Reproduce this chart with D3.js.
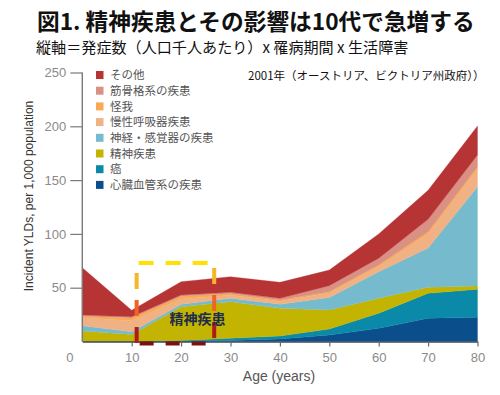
<!DOCTYPE html>
<html><head><meta charset="utf-8">
<script src="https://cdn.jsdelivr.net/npm/d3@7/dist/d3.min.js"></script>
<style>
html,body{margin:0;padding:0;background:#fff;}
svg{display:block;}
</style></head>
<body>
<svg id="c" width="500" height="395"></svg>
<script>
// ---- data ----
const ages = [0, 10, 20, 30, 40, 50, 60, 70, 80];
const cardio  = [0, 0, 0.5, 1, 2.3, 6, 12.3, 21.6, 22.5];
const cancer  = [0, 0.3, 0.5, 2, 2.8, 5.6, 13.9, 23.2, 26];
const mental  = [9.7, 6.2, 31.4, 34, 25.7, 17.7, 13.9, 5.6, 3.1];
const neuro   = [5, 2.5, 2.2, 3.1, 3.8, 11.7, 24.8, 36.6, 92.3];
const resp    = [7.3, 10.3, 4.9, 2.9, 2.7, 4, 4.7, 13, 16.1];
const injury  = [1.5, 2.5, 2.5, 1.5, 1.2, 1.3, 1.5, 2, 2.5];
const musculo = [1.1, 1.2, 1.2, 1.2, 1.6, 5.6, 6.2, 11.5, 10.8];
const other   = [44, 6, 12.4, 14.5, 14.9, 14.5, 22.7, 27, 27];

const seriesKeys  = ["cardio","cancer","mental","neuro","resp","injury","musculo","other"];
const seriesNames = ["心臓血管系の疾患","癌","精神疾患","神経・感覚器の疾患","慢性呼吸器疾患","怪我","筋骨格系の疾患","その他"];
const seriesColors = ["#0a4f8c","#0a8aa8","#c2b400","#76bbcd","#f0b185","#f9aa52","#db9084","#b73435"];
const seriesValues = {cardio, cancer, mental, neuro, resp, injury, musculo, other};

const yTicks = [50, 100, 150, 200, 250];
const xTicks = [0, 10, 20, 30, 40, 50, 60, 70, 80];

const titleText = "図1. 精神疾患とその影響は10代で急増する";
const subtitleText = "縦軸＝発症数（人口千人あたり）x 罹病期間 x 生活障害";
const noteText = "2001年（オーストリア、ビクトリア州政府））";
const xTitle = "Age (years)";
const yTitle = "Incident YLDs, per 1,000 population";
const boxLabel = "精神疾患";

// ---- build ----
const rows = ages.map((a, i) => {
  const r = {age: a};
  seriesKeys.forEach(k => r[k] = seriesValues[k][i]);
  return r;
});

const svg = d3.select("#c");
const x = d3.scaleLinear().domain([0, 80]).range([82.3, 477.5]);
const y = d3.scaleLinear().domain([0, 250]).range([341.5, 72.5]);

const stack = d3.stack().keys(seriesKeys);
const layers = stack(rows);
const area = d3.area()
  .x(d => x(d.data.age))
  .y0(d => y(d[0]))
  .y1(d => y(d[1]));

svg.append("g").selectAll("path").data(layers).join("path")
  .attr("d", area)
  .attr("fill", (d, i) => seriesColors[i])
  .attr("stroke", (d, i) => seriesColors[i])
  .attr("stroke-width", 0.3);

// axes
const fontLat = "'Liberation Sans', Arial, sans-serif";
const yAxis = d3.axisLeft(y).tickValues(yTicks).tickSize(12).tickPadding(4).tickSizeOuter(0);
const gy = svg.append("g").attr("transform", `translate(${x(0)},0)`).call(yAxis);
gy.select(".domain").attr("stroke", "#7a7a7a").attr("stroke-width", 1.4)
  .attr("d", `M0,${y(250)}V${y(0)}`);
gy.selectAll(".tick line").attr("stroke", "#7a7a7a").attr("stroke-width", 1.2);
gy.selectAll(".tick text").attr("fill", "#8a8a8a").style("font-family", fontLat).style("font-size", "13px");

const xAxis = d3.axisBottom(x).tickValues(xTicks).tickSize(5).tickPadding(6).tickSizeOuter(0);
const gx = svg.append("g").attr("transform", `translate(0,${y(0)})`).call(xAxis);
gx.select(".domain").attr("stroke", "#3c4a5a").attr("stroke-width", 1.4);
gx.selectAll(".tick line").attr("stroke", "#6a6a6a").attr("stroke-width", 1.2);
gx.selectAll(".tick").filter(d => d === 0).select("line").remove();
gx.selectAll(".tick text").attr("fill", "#8a8a8a").style("font-family", fontLat).style("font-size", "13px");
gx.selectAll(".tick").filter(d => d === 0).select("text").attr("x", -13);

svg.append("text").attr("x", 279).attr("y", 381).attr("text-anchor", "middle")
  .style("font-family", fontLat).style("font-size", "14px").attr("fill", "#555")
  .text(xTitle);
svg.append("text").attr("transform", "translate(33,196) rotate(-90)").attr("text-anchor", "middle")
  .style("font-family", fontLat).style("font-size", "12px").attr("fill", "#333")
  .text(yTitle);

// titles
const fontJP = "'Noto Sans CJK JP', 'Noto Sans', sans-serif";
svg.append("text").attr("x", 37).attr("y", 30)
  .style("font-family", fontJP).style("font-size", "22.7px").style("font-weight", "bold").attr("fill", "#111")
  .text(titleText);
svg.append("text").attr("x", 36).attr("y", 53)
  .style("font-family", fontJP).style("font-size", "15.1px").attr("fill", "#111")
  .text(subtitleText);
svg.append("text").attr("x", 248).attr("y", 80)
  .style("font-family", fontJP).style("font-size", "11.5px").attr("fill", "#111")
  .text(noteText);

// legend
const legendNames = seriesNames.slice().reverse();
const legendColors = seriesColors.slice().reverse();
const lg = svg.append("g");
legendNames.forEach((n, i) => {
  const cy = 75 + i * 15.7;
  lg.append("rect").attr("x", 96).attr("y", cy - 4).attr("width", 7.5).attr("height", 8).attr("fill", legendColors[i]);
  lg.append("text").attr("x", 110).attr("y", cy + 4.2)
    .style("font-family", fontJP).style("font-size", "11.5px").attr("fill", "#555").text(n);
});

// highlight annotation box (teens)
const bx0 = x(11), bx1 = x(26.7), byTop = y(73), byBot = y(0);
const ann = svg.append("g");
ann.append("line").attr("x1", bx0 + 2).attr("x2", bx1 - 6).attr("y1", byTop).attr("y2", byTop)
  .attr("stroke", "#ffe000").attr("stroke-width", 4).attr("stroke-dasharray", "15,12");
ann.append("line").attr("x1", bx0 + 3).attr("x2", bx1 - 6).attr("y1", byBot + 2).attr("y2", byBot + 2)
  .attr("stroke", "#7a1212").attr("stroke-width", 4).attr("stroke-dasharray", "14,12");
const vSegs = [
  {c: "#f7b52a", a: 0}, {c: "#f06322", a: 1}, {c: "#b01a18", a: 2}
];
[[bx0, 273, 16], [bx1, 268, 16]].forEach(([vx, y0, len]) => {
  vSegs.forEach(s => {
    ann.append("rect").attr("x", vx - 2).attr("y", y0 + s.a * 27).attr("width", 4).attr("height", len)
      .attr("fill", s.c);
  });
});

svg.append("text").attr("x", x(23.3)).attr("y", y(16.5)).attr("text-anchor", "middle")
  .style("font-family", fontJP).style("font-size", "14px").style("font-weight", "bold").attr("fill", "#1c2b4e")
  .text(boxLabel);
</script>
</body></html>
